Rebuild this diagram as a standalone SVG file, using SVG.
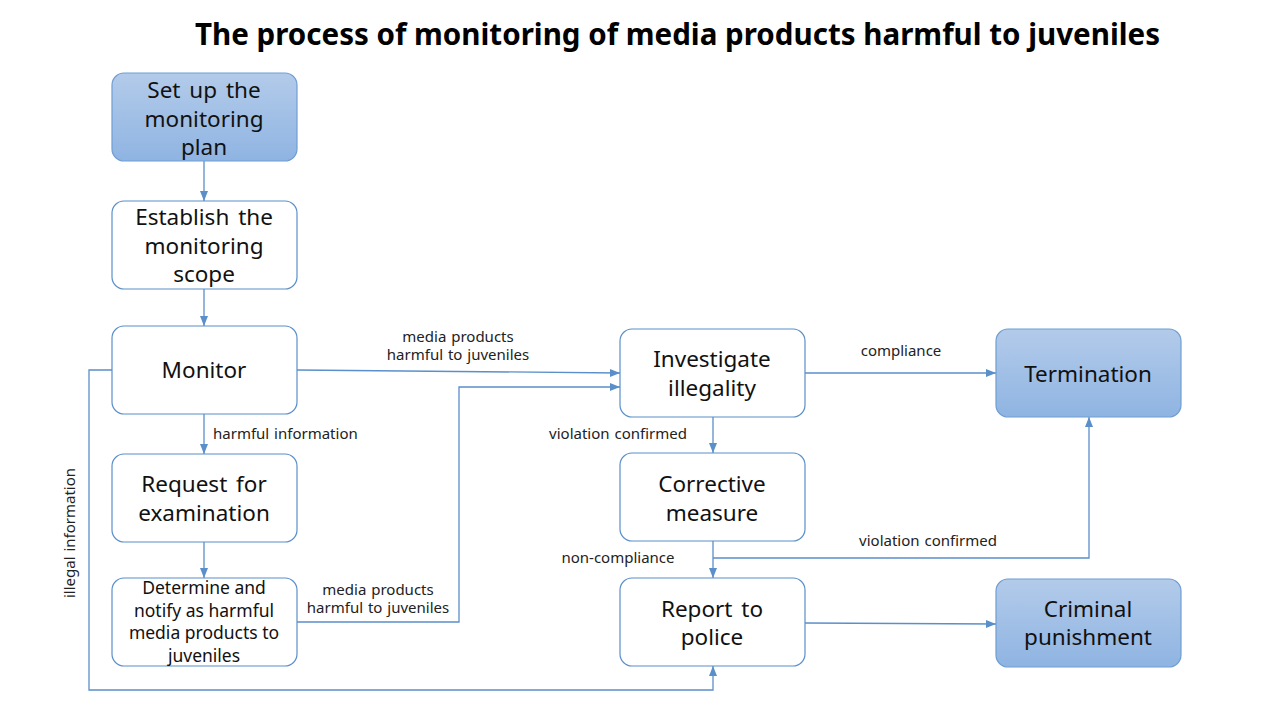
<svg xmlns="http://www.w3.org/2000/svg" width="1280" height="720" viewBox="0 0 1280 720">
<defs>
<linearGradient id="blueFill" x1="0" y1="0" x2="0" y2="1">
<stop offset="0" stop-color="#b3cbea"/>
<stop offset="1" stop-color="#8fb4e2"/>
</linearGradient>
<marker id="arr" viewBox="0 0 10 10" refX="10" refY="5" markerWidth="10" markerHeight="10" markerUnits="userSpaceOnUse" orient="auto">
<path d="M0,1 L10,5 L0,9 Z" fill="#5b8fca"/>
</marker>
<style>
.box{fill:#ffffff;stroke:#5b8fca;stroke-width:1.2}
.bbox{fill:url(#blueFill);stroke:#6f9ed3;stroke-width:1.2}
.nt{font-family:"Noto Sans","DejaVu Sans",sans-serif;font-size:22.5px;fill:#111;text-anchor:middle;word-spacing:3px}
.nts{font-family:"Noto Sans","DejaVu Sans",sans-serif;font-size:17.5px;fill:#111;text-anchor:middle}
.lbl{font-family:"Noto Sans","DejaVu Sans",sans-serif;font-size:15px;fill:#222;word-spacing:1px}
.ln{fill:none;stroke:#5b8fca;stroke-width:1.3}
.title{font-family:"Noto Sans","DejaVu Sans",sans-serif;font-size:30px;font-weight:bold;fill:#000}
</style>
</defs>
<rect width="1280" height="720" fill="#ffffff"/>
<text class="title" x="195" y="45" textLength="965" lengthAdjust="spacingAndGlyphs">The process of monitoring of media products harmful to juveniles</text>

<g id="connectors">
<path class="ln" d="M204,161 V201" marker-end="url(#arr)"/>
<path class="ln" d="M204,289 V326" marker-end="url(#arr)"/>
<path class="ln" d="M204,414 V454" marker-end="url(#arr)"/>
<path class="ln" d="M204,542 V578" marker-end="url(#arr)"/>
<path class="ln" d="M297,370 L620,373" marker-end="url(#arr)"/>
<path class="ln" d="M297,622 H459 V387 H620" marker-end="url(#arr)"/>
<path class="ln" d="M112,370 H89 V690 H713 V666" marker-end="url(#arr)"/>
<path class="ln" d="M713,417 V453" marker-end="url(#arr)"/>
<path class="ln" d="M713,541 V578" marker-end="url(#arr)"/>
<path class="ln" d="M713,558 H1089 V417" marker-end="url(#arr)"/>
<path class="ln" d="M805,373 H996" marker-end="url(#arr)"/>
<path class="ln" d="M805,623 L996,624" marker-end="url(#arr)"/>
<text class="lbl" x="213" y="439">harmful information</text>
<text class="lbl" x="458" y="342" text-anchor="middle">media products</text>
<text class="lbl" x="458" y="360" text-anchor="middle">harmful to juveniles</text>
<text class="lbl" x="378" y="595" text-anchor="middle">media products</text>
<text class="lbl" x="378" y="613" text-anchor="middle">harmful to juveniles</text>
<text class="lbl" x="75" y="533" text-anchor="middle" transform="rotate(-90 75 533)">illegal information</text>
<text class="lbl" x="618" y="439" text-anchor="middle">violation confirmed</text>
<text class="lbl" x="618" y="563" text-anchor="middle">non-compliance</text>
<text class="lbl" x="928" y="546" text-anchor="middle">violation confirmed</text>
<text class="lbl" x="901" y="356" text-anchor="middle">compliance</text>
</g>

<g id="n-plan">
<rect class="bbox" x="112" y="73" width="185" height="88" rx="12"/>
<text class="nt" x="204" y="98">Set up the</text>
<text class="nt" x="204" y="127">monitoring</text>
<text class="nt" x="204" y="155">plan</text>
</g>
<g id="n-scope">
<rect class="box" x="112" y="201" width="185" height="88" rx="12"/>
<text class="nt" x="204" y="225">Establish the</text>
<text class="nt" x="204" y="254">monitoring</text>
<text class="nt" x="204" y="282">scope</text>
</g>
<g id="n-monitor">
<rect class="box" x="112" y="326" width="185" height="88" rx="12"/>
<text class="nt" x="204" y="378">Monitor</text>
</g>
<g id="n-request">
<rect class="box" x="112" y="454" width="185" height="88" rx="12"/>
<text class="nt" x="204" y="492">Request for</text>
<text class="nt" x="204" y="521">examination</text>
</g>
<g id="n-determine">
<rect class="box" x="112" y="578" width="185" height="88" rx="12"/>
<text class="nts" x="204" y="594">Determine and</text>
<text class="nts" x="204" y="617">notify as harmful</text>
<text class="nts" x="204" y="639">media products to</text>
<text class="nts" x="204" y="662">juveniles</text>
</g>
<g id="n-investigate">
<rect class="box" x="620" y="329" width="185" height="88" rx="12"/>
<text class="nt" x="712" y="367">Investigate</text>
<text class="nt" x="712" y="396">illegality</text>
</g>
<g id="n-corrective">
<rect class="box" x="620" y="453" width="185" height="88" rx="12"/>
<text class="nt" x="712" y="492">Corrective</text>
<text class="nt" x="712" y="521">measure</text>
</g>
<g id="n-police">
<rect class="box" x="620" y="578" width="185" height="88" rx="12"/>
<text class="nt" x="712" y="617">Report to</text>
<text class="nt" x="712" y="645">police</text>
</g>
<g id="n-termination">
<rect class="bbox" x="996" y="329" width="185" height="88" rx="12"/>
<text class="nt" x="1088" y="382">Termination</text>
</g>
<g id="n-criminal">
<rect class="bbox" x="996" y="579" width="185" height="88" rx="12"/>
<text class="nt" x="1088" y="617">Criminal</text>
<text class="nt" x="1088" y="645">punishment</text>
</g>
</svg>
